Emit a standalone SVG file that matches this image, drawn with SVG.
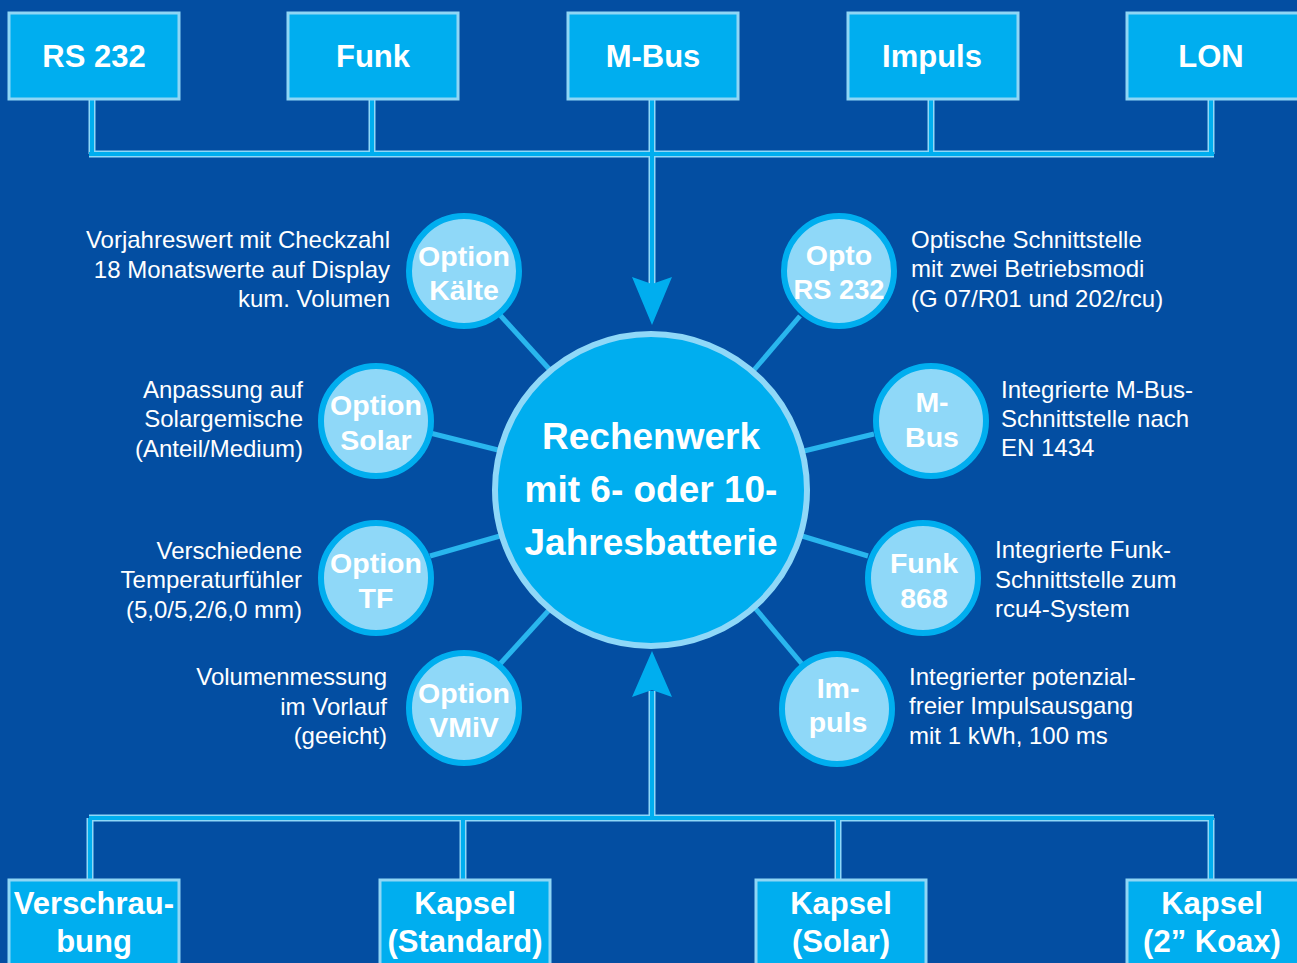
<svg xmlns="http://www.w3.org/2000/svg" width="1297" height="963" viewBox="0 0 1297 963">
<style>
.bg{fill:#034ea2}
.box{fill:#00aeef;stroke:#8fd6f5;stroke-width:3}
.sc{fill:#8fd8f8;stroke:#00aeef;stroke-width:6}
.big{fill:#00aeef;stroke:#8fd8f8;stroke-width:6}
.wo{fill:none;stroke:#8fd8f8;stroke-width:7}
.wi{fill:none;stroke:#00aeef;stroke-width:4}
.spoke{stroke:#29b6ee;stroke-width:5}
.bt{font-family:"Liberation Sans",Arial,sans-serif;font-weight:bold;fill:#fff;text-anchor:middle;font-size:31px}
.ct{font-family:"Liberation Sans",Arial,sans-serif;font-weight:bold;fill:#fff;text-anchor:middle;font-size:37px}
.st{font-family:"Liberation Sans",Arial,sans-serif;font-weight:bold;fill:#fff;text-anchor:middle;font-size:28.5px}
.dl{font-family:"Liberation Sans",Arial,sans-serif;fill:#fff;text-anchor:end;font-size:24px}
.dr{font-family:"Liberation Sans",Arial,sans-serif;fill:#fff;text-anchor:start;font-size:24px}
.arr{fill:#00aeef}
</style>
<rect class="bg" x="0" y="0" width="1297" height="963"/>
<g id="connectors">
<path class="wo" d="M92 99V154M372 99V154M652 99V154M931 99V154M1211 99V154M89 154H1214M652 154V285"/>
<path class="wi" d="M92 99V154M372 99V154M652 99V154M931 99V154M1211 99V154M89 154H1214M652 154V285"/>
<polygon class="arr" points="632,277 652,284 672,277 652,325"/>
<path class="wo" d="M652 691V818M89 818H1214M90 818V880M463 818V880M838 818V880M1211 818V880"/>
<path class="wi" d="M652 691V818M89 818H1214M90 818V880M463 818V880M838 818V880M1211 818V880"/>
<polygon class="arr" points="632,697 652,690 672,697 652,651"/>
<line class="spoke" x1="500" y1="315" x2="550" y2="370"/>
<line class="spoke" x1="430" y1="433" x2="498" y2="450"/>
<line class="spoke" x1="430" y1="556" x2="500" y2="536"/>
<line class="spoke" x1="500" y1="664" x2="550" y2="609"/>
<line class="spoke" x1="800" y1="316" x2="754" y2="370"/>
<line class="spoke" x1="874" y1="434" x2="804" y2="451"/>
<line class="spoke" x1="868" y1="556" x2="802" y2="536"/>
<line class="spoke" x1="802" y1="664" x2="755" y2="608"/>
</g>
<g id="rs232"><rect class="box" x="9" y="13" width="170" height="86"/><text class="bt" x="94" y="67">RS 232</text></g>
<g id="funk"><rect class="box" x="288" y="13" width="170" height="86"/><text class="bt" x="373" y="67">Funk</text></g>
<g id="mbus"><rect class="box" x="568" y="13" width="170" height="86"/><text class="bt" x="653" y="67">M-Bus</text></g>
<g id="impuls"><rect class="box" x="848" y="13" width="170" height="86"/><text class="bt" x="932" y="67">Impuls</text></g>
<g id="lon"><rect class="box" x="1127" y="13" width="175" height="86"/><text class="bt" x="1211" y="67">LON</text></g>
<g id="center"><circle class="big" cx="651" cy="490" r="156"/>
<text class="ct" x="651" y="449">Rechenwerk</text>
<text class="ct" x="651" y="502">mit 6- oder 10-</text>
<text class="ct" x="651" y="555">Jahresbatterie</text></g>
<g id="kaelte"><circle class="sc" cx="464" cy="271" r="55"/>
<text class="st" x="464" y="266">Option</text><text class="st" x="464" y="300">Kälte</text>
<text class="dl" x="390" y="248">Vorjahreswert mit Checkzahl</text>
<text class="dl" x="390" y="278">18 Monatswerte auf Display</text>
<text class="dl" x="390" y="307">kum. Volumen</text></g>
<g id="solar"><circle class="sc" cx="376" cy="421" r="55"/>
<text class="st" x="376" y="415">Option</text><text class="st" x="376" y="450">Solar</text>
<text class="dl" x="303" y="398">Anpassung auf</text>
<text class="dl" x="303" y="427">Solargemische</text>
<text class="dl" x="303" y="457">(Anteil/Medium)</text></g>
<g id="tf"><circle class="sc" cx="376" cy="578" r="55"/>
<text class="st" x="376" y="573">Option</text><text class="st" x="376" y="608">TF</text>
<text class="dl" x="302" y="559">Verschiedene</text>
<text class="dl" x="302" y="588">Temperaturfühler</text>
<text class="dl" x="302" y="618">(5,0/5,2/6,0 mm)</text></g>
<g id="vmiv"><circle class="sc" cx="464" cy="708" r="55"/>
<text class="st" x="464" y="703">Option</text><text class="st" x="464" y="737">VMiV</text>
<text class="dl" x="387" y="685">Volumenmessung</text>
<text class="dl" x="387" y="715">im Vorlauf</text>
<text class="dl" x="387" y="744">(geeicht)</text></g>
<g id="opto"><circle class="sc" cx="839" cy="271" r="55"/>
<text class="st" x="839" y="265">Opto</text><text class="st" x="839" y="299" textLength="91" lengthAdjust="spacingAndGlyphs">RS 232</text>
<text class="dr" x="911" y="248">Optische Schnittstelle</text>
<text class="dr" x="911" y="277">mit zwei Betriebsmodi</text>
<text class="dr" x="911" y="307">(G 07/R01 und 202/rcu)</text></g>
<g id="mbus-opt"><circle class="sc" cx="931" cy="421" r="55"/>
<text class="st" x="932" y="412">M-</text><text class="st" x="932" y="447">Bus</text>
<text class="dr" x="1001" y="398">Integrierte M-Bus-</text>
<text class="dr" x="1001" y="427">Schnittstelle nach</text>
<text class="dr" x="1001" y="456">EN 1434</text></g>
<g id="funk868"><circle class="sc" cx="923" cy="578" r="55"/>
<text class="st" x="924" y="573">Funk</text><text class="st" x="924" y="608">868</text>
<text class="dr" x="995" y="558">Integrierte Funk-</text>
<text class="dr" x="995" y="588">Schnittstelle zum</text>
<text class="dr" x="995" y="617">rcu4-System</text></g>
<g id="impuls-opt"><circle class="sc" cx="837" cy="709" r="55"/>
<text class="st" x="838" y="698">Im-</text><text class="st" x="838" y="732">puls</text>
<text class="dr" x="909" y="685">Integrierter potenzial-</text>
<text class="dr" x="909" y="714">freier Impulsausgang</text>
<text class="dr" x="909" y="744">mit 1 kWh, 100 ms</text></g>
<g id="verschraubung"><rect class="box" x="9" y="880" width="170" height="90"/><text class="bt" x="94" y="914">Verschrau-</text><text class="bt" x="94" y="952">bung</text></g>
<g id="kapsel-std"><rect class="box" x="380" y="880" width="170" height="90"/><text class="bt" x="465" y="914">Kapsel</text><text class="bt" x="465" y="952">(Standard)</text></g>
<g id="kapsel-solar"><rect class="box" x="756" y="880" width="170" height="90"/><text class="bt" x="841" y="914">Kapsel</text><text class="bt" x="841" y="952">(Solar)</text></g>
<g id="kapsel-koax"><rect class="box" x="1127" y="880" width="175" height="90"/><text class="bt" x="1212" y="914">Kapsel</text><text class="bt" x="1212" y="952">(2” Koax)</text></g>
</svg>
